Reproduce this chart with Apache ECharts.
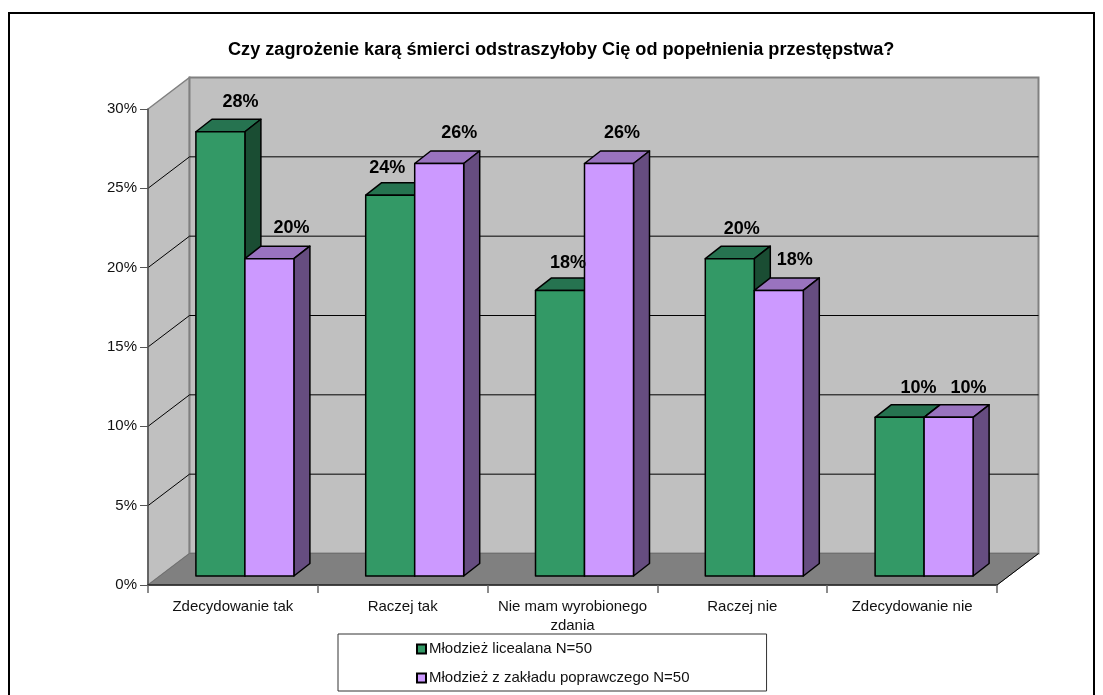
<!DOCTYPE html>
<html><head><meta charset="utf-8">
<style>html,body{margin:0;padding:0;background:#fff}#c{width:1103px;height:695px}</style>
<script src="https://cdn.jsdelivr.net/npm/echarts@6/dist/echarts.min.js"></script>
</head><body><div id="c"></div>
<script>
const titleText = 'Czy zagrożenie karą śmierci odstraszyłoby Cię od popełnienia przestępstwa?';
const categories = ['Zdecydowanie tak','Raczej tak','Nie mam wyrobionego\nzdania','Raczej nie','Zdecydowanie nie'];
const seriesNames = ['Młodzież licealana N=50','Młodzież z zakładu poprawczego N=50'];
const liceum = [28,24,18,20,10];
const zaklad = [20,26,26,18,10];
const yTicks = [0,5,10,15,20,25,30];

const FONT = '"Liberation Sans", Arial, sans-serif';
const wallDX = 41.5, wallDY = -31.5;        // depth of the chart box
const barNear = [12, -9], barFar = [28, -21.5]; // depth range of the bars
const barW = 49;
const greenFaces = ['#339966','#267350','#1a4d33'];
const purpleFaces = ['#cc99ff','#9973bf','#664d80'];
// hand-placed label offsets as in the source chart (from bar-front top centre)
const labelNudge = [
  [[20,-30],[-3,-27],[8,-27],[12,-30],[19,-29]],
  [[22,-31],[20,-30],[13,-30],[16,-30],[20,-29]]
];

function walls(params, api) {
  const c = params.coordSys;
  const x0 = c.x, x1 = c.x + c.width, yT = c.y, yB = c.y + c.height;
  const d = [wallDX, wallDY];
  return {type:'group', children:[
    {type:'polygon', shape:{points:[[x0,yB],[x0,yT],[x0+d[0],yT+d[1]],[x0+d[0],yB+d[1]]]},
      style:{fill:'#c0c0c0',stroke:'#808080',lineWidth:1.5}},
    {type:'rect', shape:{x:x0+d[0],y:yT+d[1],width:c.width,height:c.height},
      style:{fill:'#c0c0c0',stroke:'#808080',lineWidth:2}},
    {type:'polygon', shape:{points:[[x0,yB],[x1,yB],[x1+d[0],yB+d[1]],[x0+d[0],yB+d[1]]]},
      style:{fill:'#808080',stroke:'#707070',lineWidth:1}},
    {type:'line', shape:{x1:x1,y1:yB,x2:x1+d[0],y2:yB+d[1]}, style:{stroke:'#000',lineWidth:1}}
  ]};
}
function gridLine(params, api) {
  const c = params.coordSys;
  const v = api.value(0);
  if (v === 0 || v === 30) return {type:'group',children:[]};
  const p = api.coord([0, v]);
  const x0 = c.x, y = p[1];
  return {type:'polyline', shape:{points:[[x0,y],[x0+wallDX,y+wallDY],[x0+c.width+wallDX,y+wallDY]]},
    style:{fill:null,stroke:'#000',lineWidth:1}};
}
function barRenderer(seriesIdx, faces) {
  return function(params, api) {
    const cat = api.value(0), v = api.value(1);
    const center = api.coord([cat, 0])[0];
    const base = api.coord([cat, 0])[1] + barNear[1];
    const top = api.coord([cat, v])[1] + barNear[1];
    const xL = center + barNear[0] + (seriesIdx === 0 ? -barW : 0);
    const xR = xL + barW;
    const dx = barFar[0]-barNear[0], dy = barFar[1]-barNear[1];
    const st = f => ({fill:f,stroke:'#000',lineWidth:1.5,lineJoin:'round'});
    const n = labelNudge[seriesIdx][cat];
    return {type:'group', children:[
      {type:'polygon', shape:{points:[[xL,top],[xR,top],[xR+dx,top+dy],[xL+dx,top+dy]]}, style:st(faces[1])},
      {type:'polygon', shape:{points:[[xR,top],[xR+dx,top+dy],[xR+dx,base+dy],[xR,base]]}, style:st(faces[2])},
      {type:'rect', shape:{x:xL,y:top,width:barW,height:base-top}, style:st(faces[0])},
      {type:'text', z2:100, style:{text:v+'%',x:xL+barW/2+n[0],y:top+n[1],align:'center',verticalAlign:'middle',
        font:'bold 18px '+FONT,fill:'#000'}}
    ]};
  };
}
const chart = echarts.init(document.getElementById('c'), null, {renderer:'canvas'});
chart.setOption({
  animation:false,
  backgroundColor:'#fff',
  textStyle:{fontFamily:FONT},
  title:{text:titleText,left:228,top:41,padding:0,
    textStyle:{fontFamily:FONT,fontSize:18.15,fontWeight:'bold',color:'#000'}},
  grid:{left:148,right:106,top:109,bottom:110,containLabel:false},
  xAxis:{type:'category',data:categories,z:10,boundaryGap:true,
    axisLine:{show:true,lineStyle:{color:'#222',width:1.5}},
    axisTick:{show:true,alignWithLabel:false,length:8,lineStyle:{color:'#666',width:1.5}},
    axisLabel:{interval:0,color:'#111',fontSize:15,margin:12,lineHeight:19,fontFamily:FONT},
    splitLine:{show:false}},
  yAxis:{type:'value',min:0,max:30,interval:5,z:10,
    axisLine:{show:true,lineStyle:{color:'#555',width:1.5}},
    axisTick:{show:true,length:8,lineStyle:{color:'#555',width:1}},
    axisLabel:{formatter:'{value}%',color:'#111',fontSize:15,margin:11,fontFamily:FONT},
    splitLine:{show:false}},
  legend:{data:seriesNames.map(n=>({name:n,icon:'rect'})),orient:'vertical',left:338,top:634,
    padding:[4,77,2,78],itemGap:7,itemWidth:9,itemHeight:9,
    borderColor:'#333',borderWidth:1,backgroundColor:'#fff',
    textStyle:{fontSize:15,color:'#111',fontFamily:FONT,lineHeight:18,padding:[4,0,0,-2]},
    selectedMode:false},
  graphic:[{type:'rect',silent:true,z:-10,shape:{x:9,y:13,width:1085,height:700},
    style:{fill:'#fff',stroke:'#000',lineWidth:2}}],
  series:[
    {type:'custom',name:'walls',z:1,silent:true,renderItem:walls,data:[0],encode:{x:0},clip:false},
    {type:'custom',name:'grid',z:1.5,silent:true,renderItem:gridLine,data:yTicks.map(v=>[v]),clip:false},
    {type:'custom',name:seriesNames[0],z:3,silent:true,renderItem:barRenderer(0,greenFaces),
      data:liceum.map((v,i)=>[i,v]),encode:{x:0,y:1},clip:false,
      itemStyle:{color:greenFaces[0],borderColor:'#000',borderWidth:1.5}},
    {type:'custom',name:seriesNames[1],z:3,silent:true,renderItem:barRenderer(1,purpleFaces),
      data:zaklad.map((v,i)=>[i,v]),encode:{x:0,y:1},clip:false,
      itemStyle:{color:purpleFaces[0],borderColor:'#000',borderWidth:1.5}}
  ]
});
</script></body></html>
